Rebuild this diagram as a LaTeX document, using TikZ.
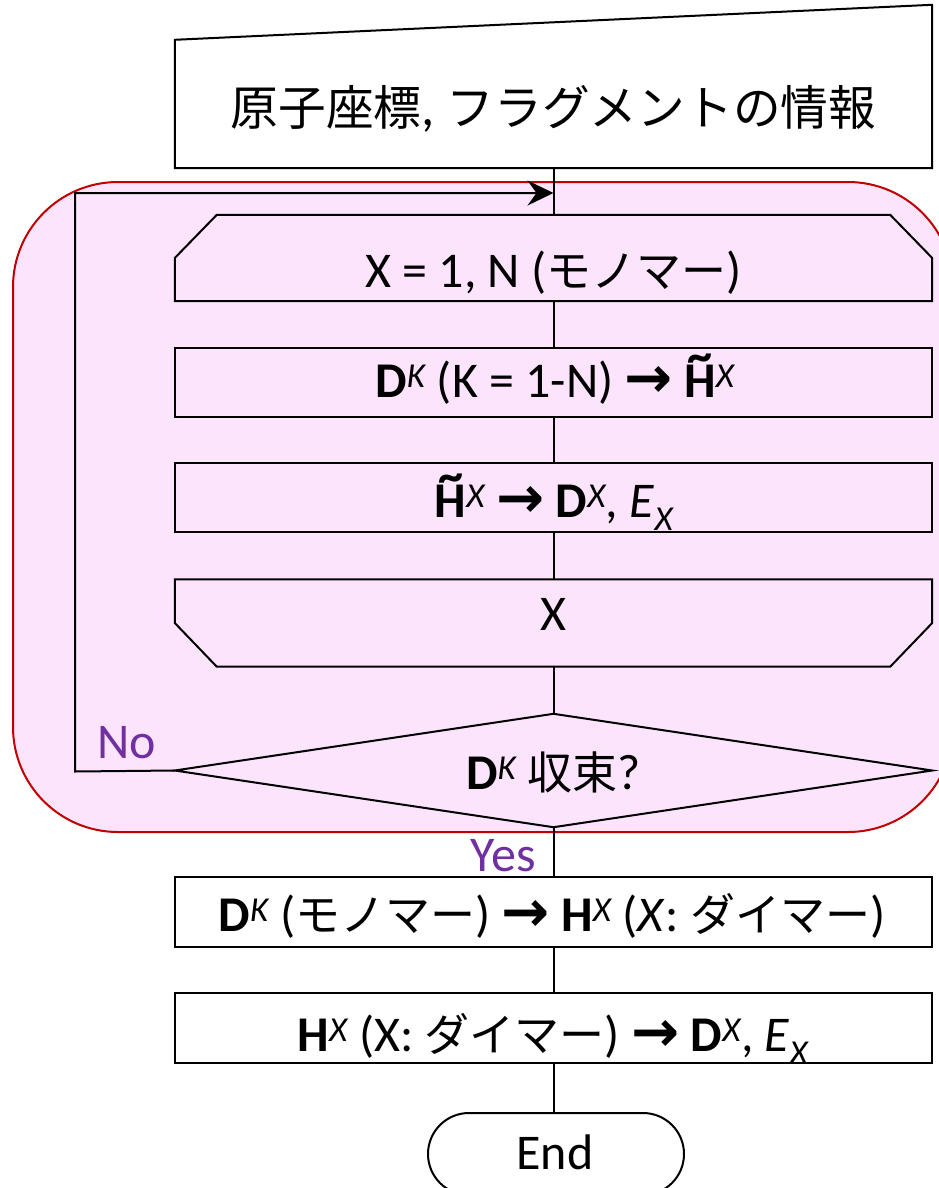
\documentclass[tikz,border=0pt]{standalone}
\usepackage{fontspec}
\setmainfont{Carlito}
\newfontfamily\jp{Noto Sans CJK JP}[Scale=0.9]
\newfontfamily\arrfont{DejaVu Sans}[Scale=1.15]
\usetikzlibrary{arrows.meta}
\definecolor{loopfill}{RGB}{253,228,253}
\definecolor{loopred}{RGB}{192,0,0}
\definecolor{lblpurple}{RGB}{112,48,160}
\newcommand{\bigarr}{{\arrfont\bfseries →}}
\newcommand{\supi}[1]{\textsuperscript{\itshape #1}}
\newcommand{\subi}[1]{\textsubscript{\itshape #1}}
\newcommand{\tildeH}{{\bfseries\ooalign{H\cr\hidewidth\raisebox{0.5em}{\char"7E}\hidewidth\cr}}}
\begin{document}
\begin{tikzpicture}[x=1pt,y=-1pt,
  line/.style={line width=2pt},
  frame/.style={draw, line width=2pt, inner sep=0pt, minimum width=757pt},
  shapebox/.style={inner sep=0pt, minimum width=757pt},
  lbl/.style={anchor=base, inner sep=0pt, font=\fontsize{50}{60}\selectfont},
  yn/.style={inner sep=0pt, text=lblpurple, font=\fontsize{50}{60}\selectfont}]
\useasboundingbox (0,0) rectangle (938,1188);
% loop region
\draw[loopred, line width=2pt, fill=loopfill, rounded corners=105pt] (13,182) rectangle (953,832);
% shapes
\node[shapebox, minimum height=163pt] (inp) at (553.5,86.5) {};
\draw[line] (inp.south west) -- ([yshift=-35pt]inp.north west) -- (inp.north east) -- (inp.south east) -- cycle;
\node[shapebox, minimum height=86pt] (ls) at (553.5,258) {};
\draw[line] (ls.south west) -- (ls.west) -- ([xshift=42pt]ls.north west) -- ([xshift=-42pt]ls.north east) -- (ls.east) -- (ls.south east) -- cycle;
\node[frame, minimum height=69pt] (b2) at (553.5,382) {};
\node[frame, minimum height=69pt] (b3) at (553.5,497.5) {};
\node[shapebox, minimum height=87pt] (le) at (553.5,623) {};
\draw[line] (le.north west) -- (le.west) -- ([xshift=42pt]le.south west) -- ([xshift=-42pt]le.south east) -- (le.east) -- (le.north east) -- cycle;
\node[shapebox, minimum height=113pt] (dec) at (553.5,770.5) {};
\draw[line] (dec.north) -- (dec.east) -- (dec.south) -- (dec.west) -- cycle;
\node[frame, minimum height=70pt] (b5) at (553.5,912) {};
\node[frame, minimum height=70pt] (b6) at (553.5,1028) {};
\node[draw, line width=2pt, inner sep=0pt, rounded corners=41pt, minimum width=256pt, minimum height=82pt] (end) at (556,1154) {};
% connectors
\draw[line] (inp.south) -- (ls.north);
\draw[line] (ls.south) -- (b2.north);
\draw[line] (b2.south) -- (b3.north);
\draw[line] (b3.south) -- (le.north);
\draw[line] (le.south) -- (dec.north);
\draw[line] (dec.south) -- (b5.north);
\draw[line] (b5.south) -- (b6.north);
\draw[line] (b6.south) -- (b6.south |- end.north);
\coordinate (nl) at (75,771.5);
\coordinate (nt) at (75,193);
\coordinate (ni) at (553.5,193);
\draw[line, -{Stealth[length=26pt,width=25pt,inset=9pt]}] (dec.west) -- (nl) -- (nt) -- (ni);
% texts
\node[lbl, font=\fontsize{53}{64}\selectfont] (t0) at (553.5,125) {{\jp 原子座標}, {\jp フラグメントの情報}};
\node[lbl] (t1) at (553.5,287) {X = 1, N ({\jp モノマー})};
\node[lbl] (t2) at (555,397) {\textbf{D}\supi{K} (K = 1-N) \bigarr{} \tildeH\supi{X}};
\node[lbl] (t3) at (554,517) {\tildeH\supi{X} \bigarr{} \textbf{D}\supi{X}, \textit{E}\subi{X}};
\node[lbl] (t4) at (553.5,630) {X};
\node[lbl] (t5) at (553.5,789) {\textbf{D}\supi{K} {\jp 収束}?};
\node[lbl] (t6) at (552,931) {\textbf{D}\supi{K} ({\jp モノマー}) \bigarr{} \textbf{H}\supi{X} (\textit{X}: {\jp ダイマー})};
\node[lbl] (t7) at (553,1051) {\textbf{H}\supi{X} (X: {\jp ダイマー}) \bigarr{} \textbf{D}\supi{X}, \textit{E}\subi{X}};
\node[lbl] (t8) at (555,1169) {End};
\node[yn, anchor=base west] (no) at (97,758) {No};
\node[yn, anchor=base east] (yes) at (536,871) {Yes};
\end{tikzpicture}
\end{document}
